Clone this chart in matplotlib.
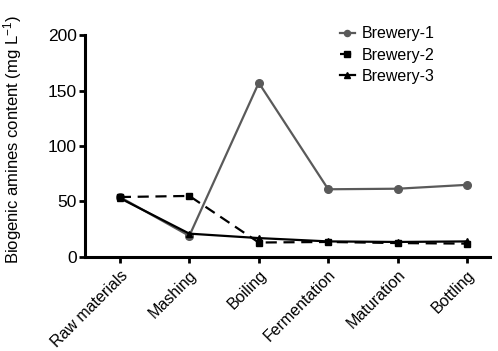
import matplotlib
matplotlib.use("Agg")
import matplotlib.pyplot as plt
import numpy as np

plt.rcParams['font.family'] = ['Liberation Sans', 'DejaVu Sans']
plt.rcParams['mathtext.default'] = 'regular'

stages = ['Raw materials', 'Mashing', 'Boiling', 'Fermentation', 'Maturation', 'Bottling']
brewery1 = [54, 19, 157, 61, 61.5, 65]
brewery2 = [54, 55, 13, 13.5, 12.5, 12]
brewery3 = [53, 21, 17, 14, 13.5, 14]

fig = plt.figure(figsize=(4.98, 3.51), dpi=100)
ax = fig.add_axes([0.171, 0.268, 0.813, 0.632])

x = np.arange(len(stages))
ax.plot(x, brewery1, color='#5a5a5a', lw=1.6, marker='o', ms=5.5, label='Brewery-1')
ax.plot(x, brewery2, color='black', lw=1.6, ls=(0, (5, 3)), marker='s', ms=5, label='Brewery-2')
ax.plot(x, brewery3, color='black', lw=1.6, marker='^', ms=5, label='Brewery-3')

ax.set_xlim(-0.5, 5.33)
ax.set_ylim(0, 200)
ax.set_yticks([0, 50, 100, 150, 200])
ax.set_xticks(x)
ax.set_xticklabels(stages, rotation=45, ha='right', rotation_mode='anchor', fontsize=11.5)
ax.set_ylabel('Biogenic amines content (mg L$^{-1}$)', fontsize=12)
ax.yaxis.set_label_coords(-0.15, 0.53)

for s in ['top', 'right']:
    ax.spines[s].set_visible(False)
for s in ['left', 'bottom']:
    ax.spines[s].set_linewidth(2.2)
ax.tick_params(axis='both', width=2, length=4.5)
ax.tick_params(axis='y', labelsize=12.5, pad=1.5)
ax.tick_params(axis='x', pad=3)

ax.legend(loc='upper left', bbox_to_anchor=(0.63, 1.04), frameon=False, fontsize=11.5,
          handlelength=0.9, handletextpad=0.45, labelspacing=0.4, markerscale=0.8,
          borderpad=0, borderaxespad=0)

fig.savefig('out.png', dpi=100)
